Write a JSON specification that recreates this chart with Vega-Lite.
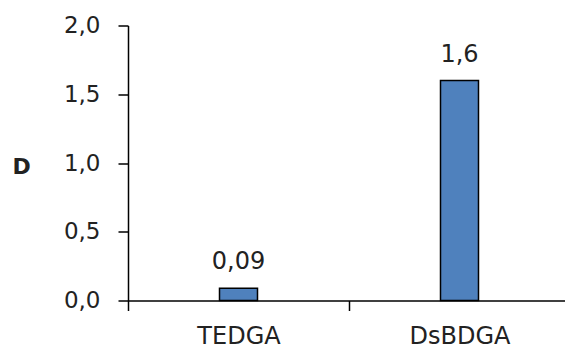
{
  "$schema": "https://vega.github.io/schema/vega-lite/v6.json",
  "autosize": {"type": "none"},
  "padding": {"left": 128, "top": 25.5, "right": 0, "bottom": 49.5},
  "width": 437,
  "height": 275,
  "background": "white",
  "data": {"values": [
    {"method": "TEDGA", "D": 0.09},
    {"method": "DsBDGA", "D": 1.6}
  ]},
  "encoding": {
    "x": {
      "field": "method", "type": "nominal", "sort": null,
      "scale": {"range": [0, 442], "paddingInner": 0, "paddingOuter": 0},
      "axis": {
        "title": null, "labelAngle": 0, "tickBand": "extent",
        "domainColor": "#000", "domainWidth": 1.5,
        "tickColor": "#000", "tickWidth": 1.5, "tickSize": 10,
        "labelPadding": 14, "labelFontSize": 24, "labelFont": "DejaVu Sans",
        "labelColor": "#222"
      }
    },
    "y": {
      "field": "D", "type": "quantitative",
      "scale": {"domain": [0, 2], "nice": false},
      "axis": {
        "values": [0, 0.5, 1, 1.5, 2],
        "labelExpr": "replace(format(datum.value, '.1f'), '.', ',')",
        "grid": false, "domainColor": "#000", "domainWidth": 1.5,
        "tickColor": "#000", "tickWidth": 1.5, "tickSize": 10,
        "labelPadding": 18, "labelFontSize": 23, "labelFont": "DejaVu Sans",
        "labelColor": "#222",
        "title": "D", "titleAngle": 0, "titleFontSize": 22, "titleFontWeight": "bold",
        "titleFont": "DejaVu Sans", "titleColor": "#222",
        "titleAlign": "center", "titleBaseline": "middle",
        "titleX": -107, "titleY": 141
      }
    }
  },
  "layer": [
    {"mark": {"type": "bar", "size": 38, "color": "#4F81BD", "stroke": "#000", "strokeWidth": 1.5}},
    {
      "mark": {"type": "text", "baseline": "alphabetic", "dy": -19, "fontSize": 24, "font": "DejaVu Sans", "color": "#222"},
      "encoding": {"text": {"field": "lab"}},
      "transform": [{"calculate": "replace(format(datum.D, '.2~f'), '.', ',')", "as": "lab"}]
    }
  ],
  "config": {"view": {"stroke": null}}
}
